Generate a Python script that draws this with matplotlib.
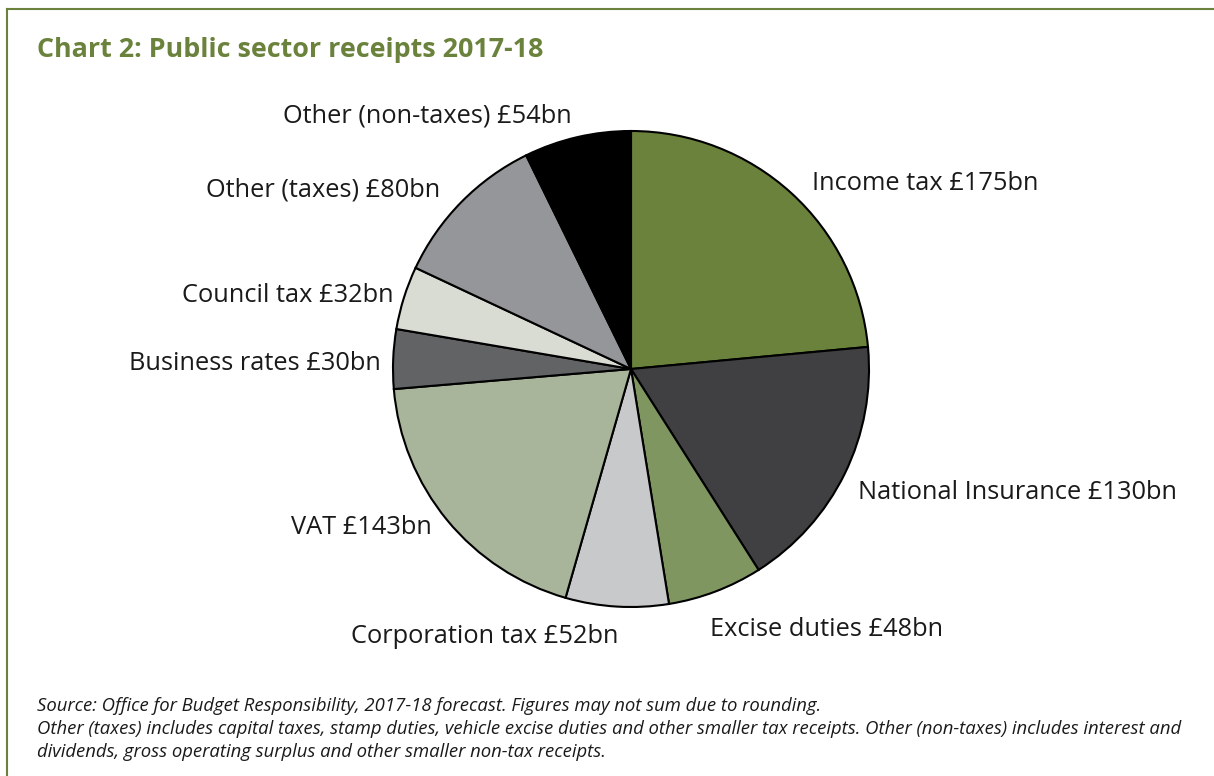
import matplotlib
matplotlib.use("Agg")
import matplotlib.pyplot as plt
from matplotlib.lines import Line2D
from matplotlib.transforms import offset_copy

plt.rcParams["font.family"] = ["Open Sans", "DejaVu Sans"]

# data
labels = [
    "Income tax £175bn", "National Insurance £130bn", "Excise duties £48bn",
    "Corporation tax £52bn", "VAT £143bn", "Business rates £30bn",
    "Council tax £32bn", "Other (taxes) £80bn", "Other (non-taxes) £54bn",
]
values = [175, 130, 48, 52, 143, 30, 32, 80, 54]
colors = ["#6a823c", "#404042", "#7f9660", "#c8c9cb", "#a9b59b",
          "#626365", "#d9dcd3", "#959699", "#000000"]

# small label nudges (px, right / down) to match the original placement
nudges = [(5, 8), (-8, 8), (-14, 16), (3, 6), (3, -8),
          (11, 6), (12, 5), (-4, 5), (0, 2)]

green = "#6a823c"
W, H = 1214, 776
fig = plt.figure(figsize=(W / 100, H / 100), dpi=100, facecolor="white")

# pie axes: centre (631, 369), radius ~238 px
cx, cy, r = 631, 369, 238
ax = fig.add_axes([(cx - r) / W, 1 - (cy + r) / H, 2 * r / W, 2 * r / H])
wedges, texts = ax.pie(values, labels=labels, colors=colors, startangle=90,
                       counterclock=False, labeldistance=1.1,
                       wedgeprops=dict(edgecolor="black", linewidth=1.5),
                       textprops=dict(fontsize=18.3, color="#1a1a1a"))
ax.set_xlim(-1, 1)
ax.set_ylim(-1, 1)
ax.set_aspect("equal")
ax.axis("off")

for t, (dx, dy) in zip(texts, nudges):
    t.set_transform(offset_copy(t.get_transform(), fig=fig, x=dx, y=-dy, units="dots"))

# title
fig.text(37 / W, 1 - 50 / H, "Chart 2: Public sector receipts 2017-18",
         fontsize=19.4, fontweight="bold", color=green, va="center", ha="left")

# footnotes
notes = [
    "Source: Office for Budget Responsibility, 2017-18 forecast. Figures may not sum due to rounding.",
    "Other (taxes) includes capital taxes, stamp duties, vehicle excise duties and other smaller tax receipts. Other (non-taxes) includes interest and",
    "dividends, gross operating surplus and other smaller non-tax receipts.",
]
for i, t in enumerate(notes):
    fig.text(37 / W, 1 - (706 + i * 23) / H, t, fontsize=13.3, style="italic",
             color="#1a1a1a", va="center", ha="left")

# frame lines (left and top)
fig.add_artist(Line2D([7 / W, 7 / W], [0, 1 - 9 / H], transform=fig.transFigure,
                      color=green, linewidth=1.5))
fig.add_artist(Line2D([7 / W, 1], [1 - 9 / H, 1 - 9 / H], transform=fig.transFigure,
                      color=green, linewidth=1.5))

fig.savefig("out.png", dpi=100, facecolor="white")
